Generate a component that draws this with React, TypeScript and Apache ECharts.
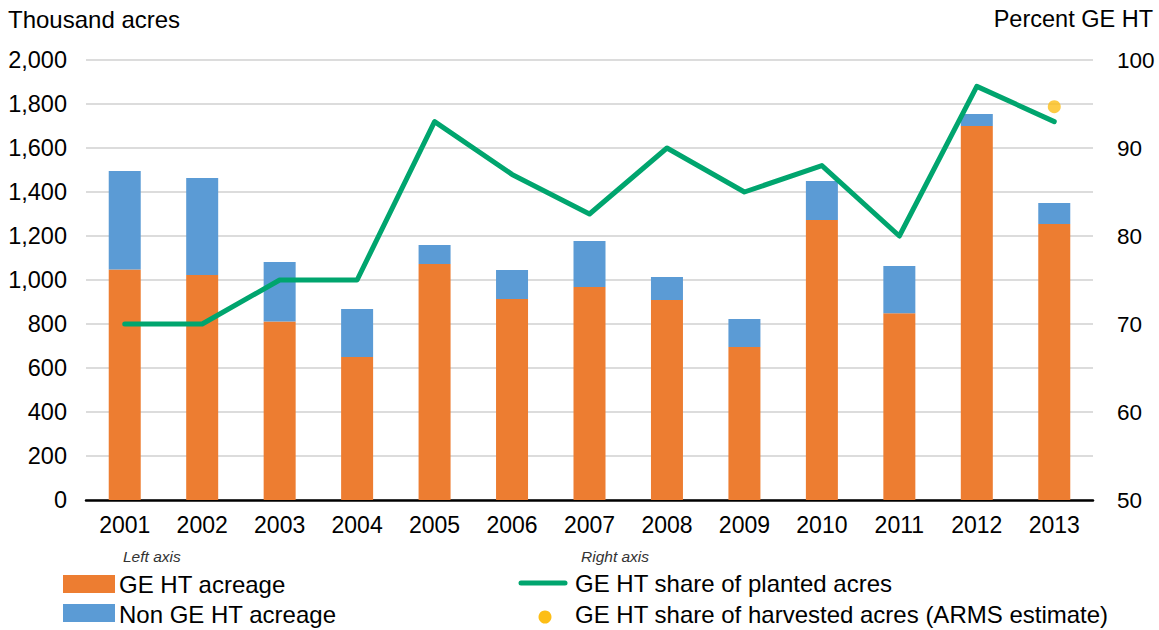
import React, { useEffect, useRef } from "react";
import * as echarts from "echarts";

const years = ["2001", "2002", "2003", "2004", "2005", "2006", "2007", "2008", "2009", "2010", "2011", "2012", "2013"];
const geHtAcreage = [1048, 1023, 811, 650, 1073, 914, 968, 909, 695, 1273, 849, 1700, 1255];
const nonGeHtAcreage = [447, 441, 271, 218, 86, 131, 209, 105, 128, 177, 215, 55, 95];
const sharePlanted = [70, 70, 75, 75, 93, 87, 82.5, 90, 85, 88, 80, 97, 93];
const shareHarvested = [null, null, null, null, null, null, null, null, null, null, null, null, 94.7];

const FONT = "'Liberation Sans', Arial, Helvetica, sans-serif";
const ORANGE = "#ED7D31";
const BLUE = "#5B9BD5";
const GREEN = "#00A56E";
const GOLD = "#FDBE16";

export default function App() {
  const ref = useRef<HTMLDivElement>(null);
  useEffect(() => {
    if (!ref.current) return;
    const chart = echarts.init(ref.current, null, { renderer: "svg" });
    chart.setOption({
      animation: false,
      textStyle: { fontFamily: FONT },
      grid: { left: 86, right: 66, top: 60, bottom: 130, containLabel: false },
      xAxis: {
        type: "category",
        data: years,
        axisTick: { show: false },
        axisLine: { lineStyle: { color: "#000", width: 2.5 } },
        axisLabel: { color: "#000", fontSize: 23, margin: 13, fontFamily: FONT },
      },
      yAxis: [
        {
          type: "value",
          min: 0,
          max: 2000,
          interval: 200,
          axisLine: { show: false },
          axisTick: { show: false },
          splitLine: { lineStyle: { color: "#d0d0d0", width: 1.5 } },
          axisLabel: {
            color: "#000",
            fontSize: 23.5,
            margin: 19,
            fontFamily: FONT,
            formatter: (v: number) => v.toLocaleString("en-US"),
          },
        },
        {
          type: "value",
          min: 50,
          max: 100,
          interval: 10,
          position: "right",
          axisLine: { show: false },
          axisTick: { show: false },
          splitLine: { show: false },
          axisLabel: { color: "#000", fontSize: 22.5, margin: 24, fontFamily: FONT },
        },
      ],
      series: [
        {
          name: "GE HT acreage",
          type: "bar",
          stack: "acres",
          data: geHtAcreage,
          barWidth: 32,
          itemStyle: { color: ORANGE },
        },
        {
          name: "Non GE HT acreage",
          type: "bar",
          stack: "acres",
          data: nonGeHtAcreage,
          barWidth: 32,
          itemStyle: { color: BLUE },
        },
        {
          name: "GE HT share of planted acres",
          type: "line",
          yAxisIndex: 1,
          data: sharePlanted,
          showSymbol: false,
          symbol: "none",
          lineStyle: { color: GREEN, width: 5, cap: "round", join: "round" },
          z: 5,
        },
        {
          name: "GE HT share of harvested acres (ARMS estimate)",
          type: "scatter",
          yAxisIndex: 1,
          data: shareHarvested,
          symbolSize: 13,
          itemStyle: { color: GOLD },
          z: 6,
        },
      ],
      graphic: [
        { type: "text", left: 8, top: 7, style: { text: "Thousand acres", font: `24px ${FONT}`, fill: "#000" } },
        { type: "text", right: 6, top: 7, style: { text: "Percent GE HT", font: `23.5px ${FONT}`, fill: "#000" } },
        { type: "text", left: 123, top: 548, style: { text: "Left axis", font: `italic 15.5px ${FONT}`, fill: "#333" } },
        { type: "rect", shape: { x: 63, y: 575, width: 52, height: 18 }, style: { fill: ORANGE } },
        { type: "text", x: 119, y: 584, style: { text: "GE HT acreage", font: `24px ${FONT}`, fill: "#000", textVerticalAlign: "middle" } },
        { type: "rect", shape: { x: 63, y: 604, width: 52, height: 18 }, style: { fill: BLUE } },
        { type: "text", x: 119, y: 614, style: { text: "Non GE HT acreage", font: `24px ${FONT}`, fill: "#000", textVerticalAlign: "middle" } },
        { type: "text", left: 581, top: 548, style: { text: "Right axis", font: `italic 15.5px ${FONT}`, fill: "#333" } },
        { type: "line", shape: { x1: 521, y1: 583, x2: 565, y2: 583 }, style: { stroke: GREEN, lineWidth: 5, lineCap: "round" } },
        { type: "text", x: 575, y: 583, style: { text: "GE HT share of planted acres", font: `24px ${FONT}`, fill: "#000", textVerticalAlign: "middle" } },
        { type: "circle", shape: { cx: 545, cy: 617, r: 6.5 }, style: { fill: GOLD } },
        { type: "text", x: 575, y: 614, style: { text: "GE HT share of harvested acres (ARMS estimate)", font: `24px ${FONT}`, fill: "#000", textVerticalAlign: "middle" } },
      ],
    });
    return () => chart.dispose();
  }, []);
  return <div ref={ref} style={{ position: "absolute", left: 0, top: 0, width: 1159, height: 630, background: "#fff" }} />;
}
